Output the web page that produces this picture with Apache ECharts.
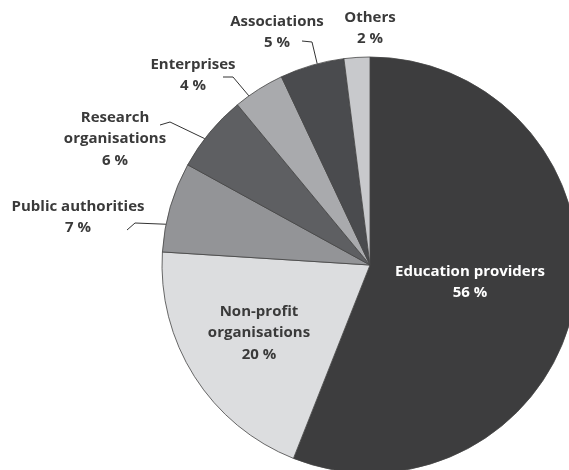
<!DOCTYPE html>
<html>
<head>
<meta charset="utf-8">
<script src="https://cdn.jsdelivr.net/npm/echarts@6/dist/echarts.min.js"></script>
<style>
html,body{margin:0;padding:0;background:#fff;}
#chart{width:569px;height:470px;}
</style>
</head>
<body>
<div id="chart"></div>
<script>
// data
var categories = ['Education providers', 'Non-profit\norganisations', 'Public authorities', 'Research\norganisations', 'Enterprises', 'Associations', 'Others'];
var shares = [56, 20, 7, 6, 4, 5, 2];

// style
var sliceColors = ['#3d3d3e', '#dcdddf', '#939497', '#5e5f62', '#a9aaad', '#4a4b4e', '#c8c9cc'];
var CX = 370, CY = 265, R = 208;
// label block centres
var labelPos = [
	{x: 470, y: 282},
	{x: 259, y: 333},
	{x: 78, y: 217},
	{x: 115, y: 139},
	{x: 193, y: 75},
	{x: 277, y: 32},
	{x: 370, y: 28}
];
// leader lines: angle on the rim (deg clockwise from top), then elbow and end
var leaders = [
	null,
	null,
	{angle: 281.3, pts: [[135, 223], [127, 230]]},
	{angle: 307.4, pts: [[170, 122], [160, 125]]},
	{angle: 324.4, pts: [[233, 77], [223, 77]]},
	{angle: 345.3, pts: [[312, 42], [302, 41]]},
	null
];

var myChart = echarts.init(document.getElementById('chart'));

var data = [];
for (var i = 0; i < categories.length; i++) {
	var item = {name: categories[i], value: shares[i], itemStyle: {color: sliceColors[i]}};
	if (i == 0) {
		item.label = {color: '#ffffff'};
	}
	if (!leaders[i]) {
		item.labelLine = {show: false};
	}
	data.push(item);
}

var option = {
	backgroundColor: '#ffffff',
	animation: false,
	series: [{
		type: 'pie',
		center: [CX, CY],
		radius: R,
		startAngle: 90,
		clockwise: true,
		avoidLabelOverlap: false,
		itemStyle: {borderColor: '#444', borderWidth: 0.8},
		label: {
			show: true,
			formatter: '{b}\n{c} %',
			fontFamily: 'Open Sans',
			fontWeight: 'bold',
			fontSize: 15,
			lineHeight: 21.5,
			color: '#3a3a3a',
			align: 'center'
		},
		labelLine: {show: true, lineStyle: {color: '#333', width: 1}},
		labelLayout: function (params) {
			var p = labelPos[params.dataIndex];
			var out = {x: p.x, y: p.y, align: 'center', verticalAlign: 'middle'};
			var ld = leaders[params.dataIndex];
			if (ld) {
				var a = ld.angle * Math.PI / 180;
				var start = [CX + R * Math.sin(a), CY - R * Math.cos(a)];
				out.labelLinePoints = [start, ld.pts[0], ld.pts[1]];
			}
			return out;
		},
		data: data
	}]
};

myChart.setOption(option);
</script>
</body>
</html>
